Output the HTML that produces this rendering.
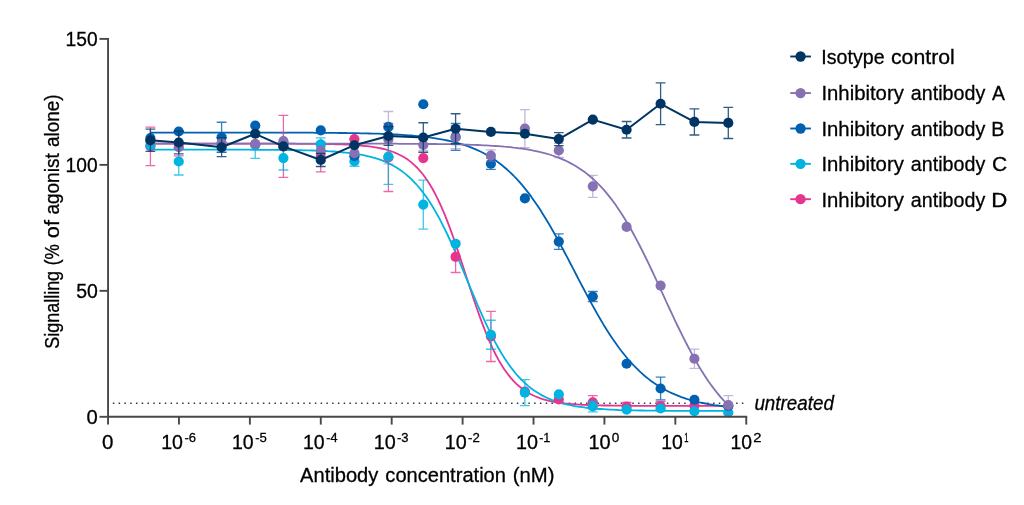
<!DOCTYPE html>
<html lang="en">
<head>
<meta charset="utf-8">
<title>Inhibitory antibody dose response</title>
<style>
html,body{margin:0;padding:0;background:#fff;}
body{width:1024px;height:505px;overflow:hidden;}
svg{display:block;will-change:transform;}
text{font-family:"Liberation Sans", sans-serif;fill:#000000;stroke:#000;stroke-width:0.3px;}
</style>
</head>
<body>
<svg width="1024" height="505" viewBox="0 0 1024 505">
<rect width="1024" height="505" fill="#ffffff"/>
<!-- untreated dotted reference line -->
<line x1="112.85" y1="403.15" x2="744" y2="403.15" stroke="#383838" stroke-width="1.5" stroke-dasharray="1.5 4.271" />
<!-- fitted curves -->
<g fill="none" stroke-width="1.80" stroke-linejoin="round">
<path d="M150.4 143.7 L153.4 143.7 L156.4 143.7 L159.4 143.7 L162.4 143.7 L165.4 143.7 L168.4 143.7 L171.4 143.7 L174.4 143.7 L177.4 143.7 L180.4 143.7 L183.4 143.7 L186.4 143.7 L189.4 143.7 L192.4 143.7 L195.4 143.7 L198.4 143.7 L201.4 143.7 L204.4 143.7 L207.4 143.7 L210.4 143.7 L213.4 143.7 L216.4 143.7 L219.4 143.7 L222.4 143.7 L225.4 143.7 L228.4 143.7 L231.4 143.7 L234.4 143.7 L237.4 143.7 L240.4 143.7 L243.4 143.7 L246.4 143.7 L249.4 143.7 L252.4 143.7 L255.4 143.7 L258.4 143.7 L261.4 143.7 L264.4 143.7 L267.4 143.7 L270.4 143.7 L273.4 143.7 L276.4 143.7 L279.4 143.7 L282.4 143.7 L285.4 143.7 L288.4 143.7 L291.4 143.7 L294.4 143.7 L297.4 143.8 L300.4 143.8 L303.4 143.8 L306.4 143.8 L309.4 143.8 L312.4 143.9 L315.4 143.9 L318.4 143.9 L321.4 144.0 L324.4 144.0 L327.4 144.0 L330.4 144.1 L333.4 144.2 L336.4 144.3 L339.4 144.3 L342.4 144.4 L345.4 144.6 L348.4 144.7 L351.4 144.9 L354.4 145.0 L357.4 145.2 L360.4 145.5 L363.4 145.8 L366.4 146.1 L369.4 146.4 L372.4 146.8 L375.4 147.3 L378.4 147.9 L381.4 148.5 L384.4 149.2 L387.4 150.0 L390.4 151.0 L393.4 152.0 L396.4 153.3 L399.4 154.7 L402.4 156.3 L405.4 158.1 L408.4 160.1 L411.4 162.4 L414.4 165.1 L417.4 168.0 L420.4 171.3 L423.4 175.0 L426.4 179.2 L429.4 183.7 L432.4 188.8 L435.4 194.3 L438.4 200.3 L441.4 206.9 L444.4 213.9 L447.4 221.4 L450.4 229.4 L453.4 237.7 L456.4 246.4 L459.4 255.4 L462.4 264.5 L465.4 273.8 L468.4 283.0 L471.4 292.2 L474.4 301.2 L477.4 310.0 L480.4 318.4 L483.4 326.4 L486.4 334.0 L489.4 341.2 L492.4 347.8 L495.4 354.0 L498.4 359.6 L501.4 364.7 L504.4 369.4 L507.4 373.6 L510.4 377.4 L513.4 380.8 L516.4 383.8 L519.4 386.5 L522.4 388.9 L525.4 391.0 L528.4 392.9 L531.4 394.5 L534.4 396.0 L537.4 397.2 L540.4 398.3 L543.4 399.3 L546.4 400.1 L549.4 400.9 L552.4 401.5 L555.4 402.1 L558.4 402.6 L561.4 403.0 L564.4 403.4 L567.4 403.7 L570.4 404.0 L573.4 404.2 L576.4 404.4 L579.4 404.6 L582.4 404.8 L585.4 404.9 L588.4 405.0 L591.4 405.1 L594.4 405.2 L597.4 405.3 L600.4 405.4 L603.4 405.5 L606.4 405.5 L609.4 405.5 L612.4 405.6 L615.4 405.6 L618.4 405.7 L621.4 405.7 L624.4 405.7 L627.4 405.7 L630.4 405.7 L633.4 405.8 L636.4 405.8 L639.4 405.8 L642.4 405.8 L645.4 405.8 L648.4 405.8 L651.4 405.8 L654.4 405.8 L657.4 405.8 L660.4 405.8 L663.4 405.8 L666.4 405.8 L669.4 405.8 L672.4 405.8 L675.4 405.8 L678.4 405.8 L681.4 405.8 L684.4 405.8 L687.4 405.8 L690.4 405.8 L693.4 405.8 L696.4 405.8 L699.4 405.8 L702.4 405.8 L705.4 405.8 L708.4 405.8 L711.4 405.8 L714.4 405.8 L717.4 405.8 L720.4 405.8 L723.4 405.8 L726.4 405.8 L728.3 405.8" stroke="#e6358d"/>
<path d="M150.4 149.7 L153.4 149.7 L156.4 149.7 L159.4 149.7 L162.4 149.7 L165.4 149.7 L168.4 149.7 L171.4 149.7 L174.4 149.7 L177.4 149.7 L180.4 149.7 L183.4 149.7 L186.4 149.7 L189.4 149.7 L192.4 149.7 L195.4 149.7 L198.4 149.7 L201.4 149.7 L204.4 149.7 L207.4 149.7 L210.4 149.7 L213.4 149.7 L216.4 149.7 L219.4 149.7 L222.4 149.7 L225.4 149.7 L228.4 149.7 L231.4 149.7 L234.4 149.7 L237.4 149.7 L240.4 149.7 L243.4 149.7 L246.4 149.7 L249.4 149.7 L252.4 149.8 L255.4 149.8 L258.4 149.8 L261.4 149.8 L264.4 149.8 L267.4 149.8 L270.4 149.8 L273.4 149.9 L276.4 149.9 L279.4 149.9 L282.4 149.9 L285.4 150.0 L288.4 150.0 L291.4 150.1 L294.4 150.1 L297.4 150.2 L300.4 150.2 L303.4 150.3 L306.4 150.4 L309.4 150.4 L312.4 150.5 L315.4 150.6 L318.4 150.7 L321.4 150.9 L324.4 151.0 L327.4 151.2 L330.4 151.3 L333.4 151.5 L336.4 151.7 L339.4 152.0 L342.4 152.3 L345.4 152.6 L348.4 152.9 L351.4 153.3 L354.4 153.7 L357.4 154.1 L360.4 154.6 L363.4 155.2 L366.4 155.9 L369.4 156.6 L372.4 157.3 L375.4 158.2 L378.4 159.2 L381.4 160.2 L384.4 161.4 L387.4 162.7 L390.4 164.2 L393.4 165.8 L396.4 167.5 L399.4 169.5 L402.4 171.6 L405.4 173.9 L408.4 176.5 L411.4 179.2 L414.4 182.3 L417.4 185.5 L420.4 189.1 L423.4 193.0 L426.4 197.1 L429.4 201.5 L432.4 206.3 L435.4 211.4 L438.4 216.7 L441.4 222.4 L444.4 228.3 L447.4 234.5 L450.4 241.0 L453.4 247.7 L456.4 254.5 L459.4 261.5 L462.4 268.7 L465.4 275.9 L468.4 283.1 L471.4 290.3 L474.4 297.4 L477.4 304.5 L480.4 311.4 L483.4 318.1 L486.4 324.6 L489.4 330.9 L492.4 336.9 L495.4 342.6 L498.4 348.0 L501.4 353.2 L504.4 358.0 L507.4 362.5 L510.4 366.7 L513.4 370.6 L516.4 374.3 L519.4 377.6 L522.4 380.7 L525.4 383.5 L528.4 386.1 L531.4 388.5 L534.4 390.7 L537.4 392.6 L540.4 394.4 L543.4 396.1 L546.4 397.5 L549.4 398.9 L552.4 400.1 L555.4 401.2 L558.4 402.2 L561.4 403.1 L564.4 403.9 L567.4 404.6 L570.4 405.2 L573.4 405.8 L576.4 406.4 L579.4 406.8 L582.4 407.2 L585.4 407.6 L588.4 408.0 L591.4 408.3 L594.4 408.6 L597.4 408.8 L600.4 409.0 L603.4 409.2 L606.4 409.4 L609.4 409.6 L612.4 409.7 L615.4 409.8 L618.4 410.0 L621.4 410.1 L624.4 410.1 L627.4 410.2 L630.4 410.3 L633.4 410.4 L636.4 410.4 L639.4 410.5 L642.4 410.5 L645.4 410.6 L648.4 410.6 L651.4 410.6 L654.4 410.7 L657.4 410.7 L660.4 410.7 L663.4 410.8 L666.4 410.8 L669.4 410.8 L672.4 410.8 L675.4 410.8 L678.4 410.8 L681.4 410.8 L684.4 410.9 L687.4 410.9 L690.4 410.9 L693.4 410.9 L696.4 410.9 L699.4 410.9 L702.4 410.9 L705.4 410.9 L708.4 410.9 L711.4 410.9 L714.4 410.9 L717.4 410.9 L720.4 410.9 L723.4 410.9 L726.4 410.9 L728.3 410.9" stroke="#00b4e1"/>
<path d="M150.4 132.6 L153.4 132.6 L156.4 132.6 L159.4 132.6 L162.4 132.6 L165.4 132.6 L168.4 132.6 L171.4 132.6 L174.4 132.6 L177.4 132.6 L180.4 132.6 L183.4 132.6 L186.4 132.6 L189.4 132.6 L192.4 132.6 L195.4 132.6 L198.4 132.6 L201.4 132.6 L204.4 132.6 L207.4 132.6 L210.4 132.6 L213.4 132.6 L216.4 132.6 L219.4 132.6 L222.4 132.6 L225.4 132.6 L228.4 132.6 L231.4 132.6 L234.4 132.6 L237.4 132.6 L240.4 132.6 L243.4 132.6 L246.4 132.6 L249.4 132.6 L252.4 132.6 L255.4 132.6 L258.4 132.6 L261.4 132.6 L264.4 132.6 L267.4 132.6 L270.4 132.6 L273.4 132.6 L276.4 132.6 L279.4 132.6 L282.4 132.6 L285.4 132.6 L288.4 132.7 L291.4 132.7 L294.4 132.7 L297.4 132.7 L300.4 132.7 L303.4 132.7 L306.4 132.7 L309.4 132.7 L312.4 132.7 L315.4 132.8 L318.4 132.8 L321.4 132.8 L324.4 132.8 L327.4 132.8 L330.4 132.9 L333.4 132.9 L336.4 132.9 L339.4 133.0 L342.4 133.0 L345.4 133.0 L348.4 133.1 L351.4 133.1 L354.4 133.2 L357.4 133.2 L360.4 133.3 L363.4 133.3 L366.4 133.4 L369.4 133.5 L372.4 133.6 L375.4 133.7 L378.4 133.7 L381.4 133.9 L384.4 134.0 L387.4 134.1 L390.4 134.2 L393.4 134.4 L396.4 134.5 L399.4 134.7 L402.4 134.9 L405.4 135.1 L408.4 135.3 L411.4 135.5 L414.4 135.8 L417.4 136.1 L420.4 136.4 L423.4 136.7 L426.4 137.0 L429.4 137.4 L432.4 137.8 L435.4 138.3 L438.4 138.8 L441.4 139.3 L444.4 139.9 L447.4 140.5 L450.4 141.1 L453.4 141.9 L456.4 142.6 L459.4 143.5 L462.4 144.4 L465.4 145.4 L468.4 146.4 L471.4 147.6 L474.4 148.8 L477.4 150.1 L480.4 151.5 L483.4 153.0 L486.4 154.7 L489.4 156.4 L492.4 158.3 L495.4 160.3 L498.4 162.5 L501.4 164.8 L504.4 167.2 L507.4 169.8 L510.4 172.6 L513.4 175.5 L516.4 178.7 L519.4 181.9 L522.4 185.4 L525.4 189.1 L528.4 192.9 L531.4 196.9 L534.4 201.2 L537.4 205.5 L540.4 210.1 L543.4 214.9 L546.4 219.8 L549.4 224.8 L552.4 230.0 L555.4 235.4 L558.4 240.8 L561.4 246.4 L564.4 252.0 L567.4 257.7 L570.4 263.5 L573.4 269.2 L576.4 275.0 L579.4 280.8 L582.4 286.5 L585.4 292.2 L588.4 297.9 L591.4 303.4 L594.4 308.8 L597.4 314.1 L600.4 319.3 L603.4 324.4 L606.4 329.2 L609.4 333.9 L612.4 338.5 L615.4 342.8 L618.4 347.0 L621.4 351.0 L624.4 354.8 L627.4 358.5 L630.4 361.9 L633.4 365.2 L636.4 368.2 L639.4 371.2 L642.4 373.9 L645.4 376.5 L648.4 378.9 L651.4 381.2 L654.4 383.3 L657.4 385.3 L660.4 387.2 L663.4 388.9 L666.4 390.5 L669.4 392.0 L672.4 393.4 L675.4 394.7 L678.4 395.9 L681.4 397.1 L684.4 398.1 L687.4 399.1 L690.4 400.0 L693.4 400.8 L696.4 401.6 L699.4 402.3 L702.4 402.9 L705.4 403.5 L708.4 404.1 L711.4 404.6 L714.4 405.1 L717.4 405.5 L720.4 405.9 L723.4 406.3 L726.4 406.7 L728.3 406.9" stroke="#0061b0"/>
<path d="M150.4 143.6 L153.4 143.6 L156.4 143.6 L159.4 143.6 L162.4 143.6 L165.4 143.6 L168.4 143.6 L171.4 143.6 L174.4 143.6 L177.4 143.6 L180.4 143.6 L183.4 143.6 L186.4 143.6 L189.4 143.6 L192.4 143.6 L195.4 143.6 L198.4 143.6 L201.4 143.6 L204.4 143.6 L207.4 143.6 L210.4 143.6 L213.4 143.6 L216.4 143.6 L219.4 143.6 L222.4 143.6 L225.4 143.6 L228.4 143.6 L231.4 143.6 L234.4 143.6 L237.4 143.6 L240.4 143.6 L243.4 143.6 L246.4 143.6 L249.4 143.6 L252.4 143.6 L255.4 143.6 L258.4 143.6 L261.4 143.6 L264.4 143.6 L267.4 143.6 L270.4 143.6 L273.4 143.6 L276.4 143.6 L279.4 143.6 L282.4 143.6 L285.4 143.6 L288.4 143.6 L291.4 143.6 L294.4 143.6 L297.4 143.6 L300.4 143.6 L303.4 143.6 L306.4 143.6 L309.4 143.6 L312.4 143.6 L315.4 143.6 L318.4 143.6 L321.4 143.6 L324.4 143.6 L327.4 143.6 L330.4 143.6 L333.4 143.6 L336.4 143.6 L339.4 143.6 L342.4 143.6 L345.4 143.6 L348.4 143.6 L351.4 143.6 L354.4 143.6 L357.4 143.6 L360.4 143.7 L363.4 143.7 L366.4 143.7 L369.4 143.7 L372.4 143.7 L375.4 143.7 L378.4 143.7 L381.4 143.7 L384.4 143.7 L387.4 143.7 L390.4 143.7 L393.4 143.7 L396.4 143.7 L399.4 143.8 L402.4 143.8 L405.4 143.8 L408.4 143.8 L411.4 143.8 L414.4 143.8 L417.4 143.9 L420.4 143.9 L423.4 143.9 L426.4 143.9 L429.4 144.0 L432.4 144.0 L435.4 144.0 L438.4 144.1 L441.4 144.1 L444.4 144.1 L447.4 144.2 L450.4 144.2 L453.4 144.3 L456.4 144.4 L459.4 144.4 L462.4 144.5 L465.4 144.6 L468.4 144.7 L471.4 144.8 L474.4 144.9 L477.4 145.0 L480.4 145.1 L483.4 145.3 L486.4 145.4 L489.4 145.6 L492.4 145.8 L495.4 146.0 L498.4 146.2 L501.4 146.4 L504.4 146.7 L507.4 146.9 L510.4 147.2 L513.4 147.6 L516.4 147.9 L519.4 148.3 L522.4 148.7 L525.4 149.2 L528.4 149.7 L531.4 150.2 L534.4 150.8 L537.4 151.4 L540.4 152.1 L543.4 152.8 L546.4 153.6 L549.4 154.5 L552.4 155.5 L555.4 156.5 L558.4 157.6 L561.4 158.8 L564.4 160.1 L567.4 161.5 L570.4 163.1 L573.4 164.7 L576.4 166.5 L579.4 168.4 L582.4 170.4 L585.4 172.6 L588.4 175.0 L591.4 177.5 L594.4 180.2 L597.4 183.1 L600.4 186.1 L603.4 189.4 L606.4 192.9 L609.4 196.6 L612.4 200.4 L615.4 204.6 L618.4 208.9 L621.4 213.4 L624.4 218.2 L627.4 223.2 L630.4 228.3 L633.4 233.7 L636.4 239.3 L639.4 245.0 L642.4 251.0 L645.4 257.0 L648.4 263.2 L651.4 269.5 L654.4 275.9 L657.4 282.4 L660.4 288.9 L663.4 295.4 L666.4 302.0 L669.4 308.5 L672.4 314.9 L675.4 321.3 L678.4 327.5 L681.4 333.7 L684.4 339.7 L687.4 345.5 L690.4 351.2 L693.4 356.7 L696.4 362.0 L699.4 367.1 L702.4 372.0 L705.4 376.7 L708.4 381.2 L711.4 385.4 L714.4 389.4 L717.4 393.2 L720.4 396.8 L723.4 400.2 L726.4 403.4 L728.3 405.3" stroke="#8672b2"/>
</g>
<!-- series D -->
<g>
<path d="M150.40 127.20V165.60M145.50 127.20H155.30M145.50 165.60H155.30M178.75 131.10V155.90M173.85 131.10H183.65M173.85 155.90H183.65M283.40 115.45V177.45M278.50 115.45H288.30M278.50 177.45H288.30M320.75 142.10V171.90M315.85 142.10H325.65M315.85 171.90H325.65M388.40 123.50V191.50M383.50 123.50H393.30M383.50 191.50H393.30M455.60 241.30V272.50M450.70 241.30H460.50M450.70 272.50H460.50M490.90 311.30V361.50M486.00 311.30H495.80M486.00 361.50H495.80M592.80 395.55V408.95M587.90 395.55H597.70M587.90 408.95H597.70M626.60 402.50V410.50M621.70 402.50H631.50M621.70 410.50H631.50M660.60 401.50V410.50M655.70 401.50H665.50M655.70 410.50H665.50" fill="none" stroke="#e6358d" stroke-opacity="0.75" stroke-width="1.30"/>
<circle cx="150.40" cy="146.40" r="5.10" fill="#e6358d"/>
<circle cx="178.75" cy="143.50" r="5.10" fill="#e6358d"/>
<circle cx="221.60" cy="144.00" r="5.10" fill="#e6358d"/>
<circle cx="255.25" cy="144.00" r="5.10" fill="#e6358d"/>
<circle cx="283.40" cy="146.45" r="5.10" fill="#e6358d"/>
<circle cx="320.75" cy="157.00" r="5.10" fill="#e6358d"/>
<circle cx="354.40" cy="139.20" r="5.10" fill="#e6358d"/>
<circle cx="388.40" cy="157.50" r="5.10" fill="#e6358d"/>
<circle cx="423.30" cy="158.10" r="5.10" fill="#e6358d"/>
<circle cx="455.60" cy="256.90" r="5.10" fill="#e6358d"/>
<circle cx="490.90" cy="336.40" r="5.10" fill="#e6358d"/>
<circle cx="524.90" cy="391.50" r="5.10" fill="#e6358d"/>
<circle cx="558.80" cy="399.40" r="5.10" fill="#e6358d"/>
<circle cx="592.80" cy="402.25" r="5.10" fill="#e6358d"/>
<circle cx="626.60" cy="406.50" r="5.10" fill="#e6358d"/>
<circle cx="660.60" cy="406.00" r="5.10" fill="#e6358d"/>
<circle cx="694.40" cy="405.60" r="5.10" fill="#e6358d"/>
<circle cx="728.30" cy="406.00" r="5.10" fill="#e6358d"/>
</g>
<!-- series C -->
<g>
<path d="M178.75 148.00V175.00M173.85 148.00H183.65M173.85 175.00H183.65M221.60 135.30V152.30M216.70 135.30H226.50M216.70 152.30H226.50M255.25 131.60V158.40M250.35 131.60H260.15M250.35 158.40H260.15M283.40 146.20V170.00M278.50 146.20H288.30M278.50 170.00H288.30M320.75 137.90V150.90M315.85 137.90H325.65M315.85 150.90H325.65M354.40 156.25V166.25M349.50 156.25H359.30M349.50 166.25H359.30M388.40 128.80V184.40M383.50 128.80H393.30M383.50 184.40H393.30M423.30 180.10V229.10M418.40 180.10H428.20M418.40 229.10H428.20M490.90 320.25V349.25M486.00 320.25H495.80M486.00 349.25H495.80M524.90 379.70V405.70M520.00 379.70H529.80M520.00 405.70H529.80M592.80 401.10V411.90M587.90 401.10H597.70M587.90 411.90H597.70" fill="none" stroke="#00b4e1" stroke-opacity="0.75" stroke-width="1.30"/>
<circle cx="150.40" cy="145.50" r="5.10" fill="#00b4e1"/>
<circle cx="178.75" cy="161.50" r="5.10" fill="#00b4e1"/>
<circle cx="221.60" cy="143.80" r="5.10" fill="#00b4e1"/>
<circle cx="255.25" cy="145.00" r="5.10" fill="#00b4e1"/>
<circle cx="283.40" cy="158.10" r="5.10" fill="#00b4e1"/>
<circle cx="320.75" cy="144.40" r="5.10" fill="#00b4e1"/>
<circle cx="354.40" cy="161.25" r="5.10" fill="#00b4e1"/>
<circle cx="388.40" cy="156.60" r="5.10" fill="#00b4e1"/>
<circle cx="423.30" cy="204.60" r="5.10" fill="#00b4e1"/>
<circle cx="455.60" cy="243.75" r="5.10" fill="#00b4e1"/>
<circle cx="490.90" cy="334.75" r="5.10" fill="#00b4e1"/>
<circle cx="524.90" cy="392.70" r="5.10" fill="#00b4e1"/>
<circle cx="558.80" cy="394.40" r="5.10" fill="#00b4e1"/>
<circle cx="592.80" cy="406.50" r="5.10" fill="#00b4e1"/>
<circle cx="626.60" cy="409.60" r="5.10" fill="#00b4e1"/>
<circle cx="660.60" cy="408.50" r="5.10" fill="#00b4e1"/>
<circle cx="694.40" cy="411.25" r="5.10" fill="#00b4e1"/>
<circle cx="728.30" cy="412.50" r="5.10" fill="#00b4e1"/>
</g>
<!-- series B -->
<g>
<path d="M221.60 122.25V152.25M216.70 122.25H226.50M216.70 152.25H226.50M455.60 123.50V150.30M450.70 123.50H460.50M450.70 150.30H460.50M490.90 158.15V169.35M486.00 158.15H495.80M486.00 169.35H495.80M558.80 233.90V249.30M553.90 233.90H563.70M553.90 249.30H563.70M592.80 291.50V301.50M587.90 291.50H597.70M587.90 301.50H597.70M660.60 377.10V399.90M655.70 377.10H665.50M655.70 399.90H665.50" fill="none" stroke="#0061b0" stroke-opacity="0.80" stroke-width="1.30"/>
<circle cx="150.40" cy="138.00" r="5.10" fill="#0061b0"/>
<circle cx="178.75" cy="131.50" r="5.10" fill="#0061b0"/>
<circle cx="221.60" cy="137.25" r="5.10" fill="#0061b0"/>
<circle cx="255.25" cy="125.60" r="5.10" fill="#0061b0"/>
<circle cx="283.40" cy="143.00" r="5.10" fill="#0061b0"/>
<circle cx="320.75" cy="130.40" r="5.10" fill="#0061b0"/>
<circle cx="354.40" cy="156.25" r="5.10" fill="#0061b0"/>
<circle cx="388.40" cy="126.90" r="5.10" fill="#0061b0"/>
<circle cx="423.30" cy="104.25" r="5.10" fill="#0061b0"/>
<circle cx="455.60" cy="136.90" r="5.10" fill="#0061b0"/>
<circle cx="490.90" cy="163.75" r="5.10" fill="#0061b0"/>
<circle cx="524.90" cy="198.40" r="5.10" fill="#0061b0"/>
<circle cx="558.80" cy="241.60" r="5.10" fill="#0061b0"/>
<circle cx="592.80" cy="296.50" r="5.10" fill="#0061b0"/>
<circle cx="626.60" cy="363.75" r="5.10" fill="#0061b0"/>
<circle cx="660.60" cy="388.50" r="5.10" fill="#0061b0"/>
<circle cx="694.40" cy="399.75" r="5.10" fill="#0061b0"/>
<circle cx="728.30" cy="406.00" r="5.10" fill="#0061b0"/>
</g>
<!-- series A -->
<g>
<path d="M283.40 133.20V148.80M278.50 133.20H288.30M278.50 148.80H288.30M320.75 147.20V154.00M315.85 147.20H325.65M315.85 154.00H325.65M388.40 111.50V163.80M383.50 111.50H393.30M383.50 163.80H393.30M423.30 139.50V150.50M418.40 139.50H428.20M418.40 150.50H428.20M455.60 126.25V148.75M450.70 126.25H460.50M450.70 148.75H460.50M490.90 149.90V161.30M486.00 149.90H495.80M486.00 161.30H495.80M524.90 109.70V147.70M520.00 109.70H529.80M520.00 147.70H529.80M558.80 143.30V157.50M553.90 143.30H563.70M553.90 157.50H563.70M592.80 175.30V197.30M587.90 175.30H597.70M587.90 197.30H597.70M694.40 349.05V368.45M689.50 349.05H699.30M689.50 368.45H699.30M728.30 395.60V414.40M723.40 395.60H733.20M723.40 414.40H733.20" fill="none" stroke="#8672b2" stroke-opacity="0.50" stroke-width="1.30"/>
<circle cx="150.40" cy="141.00" r="5.10" fill="#8672b2"/>
<circle cx="178.75" cy="147.20" r="5.10" fill="#8672b2"/>
<circle cx="221.60" cy="143.00" r="5.10" fill="#8672b2"/>
<circle cx="255.25" cy="144.20" r="5.10" fill="#8672b2"/>
<circle cx="283.40" cy="141.00" r="5.10" fill="#8672b2"/>
<circle cx="320.75" cy="150.60" r="5.10" fill="#8672b2"/>
<circle cx="354.40" cy="153.10" r="5.10" fill="#8672b2"/>
<circle cx="388.40" cy="139.40" r="5.10" fill="#8672b2"/>
<circle cx="423.30" cy="145.00" r="5.10" fill="#8672b2"/>
<circle cx="455.60" cy="137.50" r="5.10" fill="#8672b2"/>
<circle cx="490.90" cy="155.60" r="5.10" fill="#8672b2"/>
<circle cx="524.90" cy="128.70" r="5.10" fill="#8672b2"/>
<circle cx="558.80" cy="150.40" r="5.10" fill="#8672b2"/>
<circle cx="592.80" cy="186.30" r="5.10" fill="#8672b2"/>
<circle cx="626.60" cy="226.90" r="5.10" fill="#8672b2"/>
<circle cx="660.60" cy="285.70" r="5.10" fill="#8672b2"/>
<circle cx="694.40" cy="358.75" r="5.10" fill="#8672b2"/>
<circle cx="728.30" cy="405.00" r="5.10" fill="#8672b2"/>
</g>
<!-- series I -->
<g>
<path d="M150.40 129.15V151.35M145.50 129.15H155.30M145.50 151.35H155.30M178.75 131.10V153.90M173.85 131.10H183.65M173.85 153.90H183.65M221.60 137.95V156.55M216.70 137.95H226.50M216.70 156.55H226.50M320.75 153.50V166.50M315.85 153.50H325.65M315.85 166.50H325.65M388.40 126.60V145.40M383.50 126.60H393.30M383.50 145.40H393.30M423.30 122.75V152.25M418.40 122.75H428.20M418.40 152.25H428.20M455.60 113.75V143.75M450.70 113.75H460.50M450.70 143.75H460.50M558.80 132.60V145.60M553.90 132.60H563.70M553.90 145.60H563.70M626.60 121.50V138.00M621.70 121.50H631.50M621.70 138.00H631.50M660.60 82.95V124.55M655.70 82.95H665.50M655.70 124.55H665.50M694.40 108.80V135.00M689.50 108.80H699.30M689.50 135.00H699.30M728.30 107.30V138.50M723.40 107.30H733.20M723.40 138.50H733.20" fill="none" stroke="#003462" stroke-opacity="0.80" stroke-width="1.30"/>
<path d="M150.4 140.2 L178.8 142.5 L221.6 147.2 L255.2 133.8 L283.4 146.4 L320.8 160.0 L354.4 145.2 L388.4 136.0 L423.3 137.5 L455.6 128.8 L490.9 131.9 L524.9 133.8 L558.8 139.1 L592.8 119.6 L626.6 129.8 L660.6 103.8 L694.4 121.9 L728.3 122.9" fill="none" stroke="#003462" stroke-width="2" stroke-linejoin="round"/>
<circle cx="150.40" cy="140.25" r="5.10" fill="#003462"/>
<circle cx="178.75" cy="142.50" r="5.10" fill="#003462"/>
<circle cx="221.60" cy="147.25" r="5.10" fill="#003462"/>
<circle cx="255.25" cy="133.75" r="5.10" fill="#003462"/>
<circle cx="283.40" cy="146.40" r="5.10" fill="#003462"/>
<circle cx="320.75" cy="160.00" r="5.10" fill="#003462"/>
<circle cx="354.40" cy="145.25" r="5.10" fill="#003462"/>
<circle cx="388.40" cy="136.00" r="5.10" fill="#003462"/>
<circle cx="423.30" cy="137.50" r="5.10" fill="#003462"/>
<circle cx="455.60" cy="128.75" r="5.10" fill="#003462"/>
<circle cx="490.90" cy="131.90" r="5.10" fill="#003462"/>
<circle cx="524.90" cy="133.75" r="5.10" fill="#003462"/>
<circle cx="558.80" cy="139.10" r="5.10" fill="#003462"/>
<circle cx="592.80" cy="119.60" r="5.10" fill="#003462"/>
<circle cx="626.60" cy="129.75" r="5.10" fill="#003462"/>
<circle cx="660.60" cy="103.75" r="5.10" fill="#003462"/>
<circle cx="694.40" cy="121.90" r="5.10" fill="#003462"/>
<circle cx="728.30" cy="122.90" r="5.10" fill="#003462"/>
</g>
<!-- axes -->
<g stroke="#484848" stroke-width="1.9" fill="none">
<path d="M108.05 37.95V417.75"/>
<path d="M107.10 416.80H747.20"/>
<path d="M99.50 416.80H108.05"/>
<path d="M99.50 290.83H108.05"/>
<path d="M99.50 164.87H108.05"/>
<path d="M99.50 38.90H108.05"/>
<path d="M108.05 416.80V424.60"/>
<path d="M178.96 416.80V424.60"/>
<path d="M249.87 416.80V424.60"/>
<path d="M320.78 416.80V424.60"/>
<path d="M391.69 416.80V424.60"/>
<path d="M462.61 416.80V424.60"/>
<path d="M533.52 416.80V424.60"/>
<path d="M604.43 416.80V424.60"/>
<path d="M675.34 416.80V424.60"/>
<path d="M746.25 416.80V424.60"/>
</g>
<!-- text -->
<g>
<text x="65.60" y="46.25" font-size="20.50" textLength="32.01" lengthAdjust="spacingAndGlyphs">150</text>
<text x="65.60" y="172.15" font-size="20.50" textLength="32.01" lengthAdjust="spacingAndGlyphs">100</text>
<text x="76.14" y="298.10" font-size="20.50" textLength="21.66" lengthAdjust="spacingAndGlyphs">50</text>
<text x="86.54" y="423.90" font-size="20.50" textLength="11.25" lengthAdjust="spacingAndGlyphs">0</text>
<text x="102.07" y="448.70" font-size="20.50" textLength="11.43" lengthAdjust="spacingAndGlyphs">0</text>
<text x="161.13" y="448.70" font-size="20.50" textLength="21.82" lengthAdjust="spacingAndGlyphs">10</text>
<text x="184.39" y="441.60" font-size="13.60" stroke-width="0.5" textLength="11.55" lengthAdjust="spacingAndGlyphs">-6</text>
<text x="232.02" y="448.70" font-size="20.50" textLength="21.67" lengthAdjust="spacingAndGlyphs">10</text>
<text x="255.24" y="441.60" font-size="13.60" stroke-width="0.5" textLength="11.68" lengthAdjust="spacingAndGlyphs">-5</text>
<text x="302.88" y="448.70" font-size="20.50" textLength="21.71" lengthAdjust="spacingAndGlyphs">10</text>
<text x="326.17" y="441.60" font-size="13.60" stroke-width="0.5" textLength="11.32" lengthAdjust="spacingAndGlyphs">-4</text>
<text x="373.82" y="448.70" font-size="20.50" textLength="22.06" lengthAdjust="spacingAndGlyphs">10</text>
<text x="397.03" y="441.60" font-size="13.60" stroke-width="0.5" textLength="11.61" lengthAdjust="spacingAndGlyphs">-3</text>
<text x="444.78" y="448.70" font-size="20.50" textLength="21.99" lengthAdjust="spacingAndGlyphs">10</text>
<text x="468.00" y="441.60" font-size="13.60" stroke-width="0.5" textLength="11.74" lengthAdjust="spacingAndGlyphs">-2</text>
<text x="515.95" y="448.70" font-size="20.50" textLength="22.02" lengthAdjust="spacingAndGlyphs">10</text>
<text x="539.13" y="441.60" font-size="13.60" stroke-width="0.5" textLength="11.20" lengthAdjust="spacingAndGlyphs">-1</text>
<text x="588.44" y="448.70" font-size="20.50" textLength="22.17" lengthAdjust="spacingAndGlyphs">10</text>
<text x="611.83" y="441.60" font-size="13.60" stroke-width="0.5" textLength="7.55" lengthAdjust="spacingAndGlyphs">0</text>
<text x="661.20" y="448.70" font-size="20.50" textLength="21.65" lengthAdjust="spacingAndGlyphs">10</text>
<text x="684.21" y="441.60" font-size="13.60" stroke-width="0.5" textLength="4.24" lengthAdjust="spacingAndGlyphs">1</text>
<text x="730.44" y="448.70" font-size="20.50" textLength="21.50" lengthAdjust="spacingAndGlyphs">10</text>
<text x="753.18" y="441.60" font-size="13.60" stroke-width="0.5" textLength="8.22" lengthAdjust="spacingAndGlyphs">2</text>
<text x="300.12" y="481.90" font-size="20.50" textLength="78.24" lengthAdjust="spacingAndGlyphs">Antibody</text>
<text x="385.35" y="481.90" font-size="20.50" textLength="120.62" lengthAdjust="spacingAndGlyphs">concentration</text>
<text x="512.75" y="481.90" font-size="20.50" textLength="41.73" lengthAdjust="spacingAndGlyphs">(nM)</text>
<text transform="translate(59.10 348.69) rotate(-90)" font-size="20.50" textLength="77.79" lengthAdjust="spacingAndGlyphs">Signalling</text>
<text transform="translate(59.10 265.31) rotate(-90)" font-size="20.50" textLength="21.07" lengthAdjust="spacingAndGlyphs">(%</text>
<text transform="translate(59.10 238.17) rotate(-90)" font-size="20.50" textLength="18.15" lengthAdjust="spacingAndGlyphs">of</text>
<text transform="translate(59.10 214.56) rotate(-90)" font-size="20.50" textLength="61.23" lengthAdjust="spacingAndGlyphs">agonist</text>
<text transform="translate(59.10 146.95) rotate(-90)" font-size="20.50" textLength="52.38" lengthAdjust="spacingAndGlyphs">alone)</text>
<text x="754.39" y="410.40" font-size="20.50" font-style="italic" textLength="79.46" lengthAdjust="spacingAndGlyphs">untreated</text>
<text x="821.33" y="63.95" font-size="20.50" textLength="63.27" lengthAdjust="spacingAndGlyphs">Isotype</text>
<text x="890.97" y="63.95" font-size="20.50" textLength="63.80" lengthAdjust="spacingAndGlyphs">control</text>
<text x="821.38" y="100.40" font-size="20.50" textLength="82.49" lengthAdjust="spacingAndGlyphs">Inhibitory</text>
<text x="910.87" y="100.40" font-size="20.50" textLength="74.36" lengthAdjust="spacingAndGlyphs">antibody</text>
<text x="992.12" y="100.40" font-size="20.50" textLength="12.92" lengthAdjust="spacingAndGlyphs">A</text>
<text x="821.38" y="135.76" font-size="20.50" textLength="82.49" lengthAdjust="spacingAndGlyphs">Inhibitory</text>
<text x="910.87" y="135.76" font-size="20.50" textLength="74.36" lengthAdjust="spacingAndGlyphs">antibody</text>
<text x="991.32" y="135.76" font-size="20.50" textLength="13.07" lengthAdjust="spacingAndGlyphs">B</text>
<text x="821.38" y="171.10" font-size="20.50" textLength="82.49" lengthAdjust="spacingAndGlyphs">Inhibitory</text>
<text x="910.87" y="171.10" font-size="20.50" textLength="74.36" lengthAdjust="spacingAndGlyphs">antibody</text>
<text x="991.92" y="171.10" font-size="20.50" textLength="15.17" lengthAdjust="spacingAndGlyphs">C</text>
<text x="821.38" y="206.50" font-size="20.50" textLength="82.49" lengthAdjust="spacingAndGlyphs">Inhibitory</text>
<text x="910.87" y="206.50" font-size="20.50" textLength="74.36" lengthAdjust="spacingAndGlyphs">antibody</text>
<text x="991.21" y="206.50" font-size="20.50" textLength="16.08" lengthAdjust="spacingAndGlyphs">D</text>
</g>
<!-- legend markers -->
<g>
<path d="M790.25 56.50H810.9" stroke="#003462" stroke-width="1.9"/><circle cx="800.55" cy="56.50" r="5.15" fill="#003462"/>
<path d="M790.25 93.05H810.9" stroke="#8672b2" stroke-width="1.9"/><circle cx="800.55" cy="93.05" r="5.15" fill="#8672b2"/>
<path d="M790.25 128.50H810.9" stroke="#0061b0" stroke-width="1.9"/><circle cx="800.55" cy="128.50" r="5.15" fill="#0061b0"/>
<path d="M790.25 163.85H810.9" stroke="#00b4e1" stroke-width="1.9"/><circle cx="800.55" cy="163.85" r="5.15" fill="#00b4e1"/>
<path d="M790.25 199.20H810.9" stroke="#e6358d" stroke-width="1.9"/><circle cx="800.55" cy="199.20" r="5.15" fill="#e6358d"/>
</g>
</svg>
</body>
</html>
